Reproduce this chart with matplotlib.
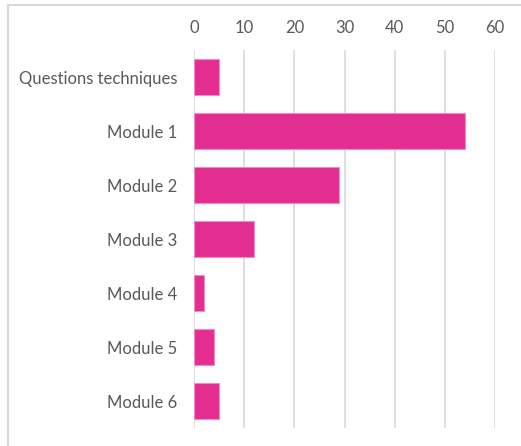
import matplotlib
matplotlib.use('Agg')
import matplotlib.pyplot as plt
from matplotlib.lines import Line2D

# data
categories = ['Questions techniques', 'Module 1', 'Module 2', 'Module 3',
              'Module 4', 'Module 5', 'Module 6']
values = [5, 54, 29, 12, 2, 4, 5]
x_ticks = [0, 10, 20, 30, 40, 50, 60]

plt.rcParams['font.family'] = ['Lato', 'DejaVu Sans']

fig = plt.figure(figsize=(5.21, 4.46), dpi=100)
ax = fig.add_axes([194 / 521, 1 - 428 / 446, (495 - 194) / 521, (428 - 50) / 446])

ypos = list(range(len(categories)))
ax.barh(ypos, values, height=0.67, color='#E32D91', edgecolor='#F08CC4', linewidth=0.8, zorder=3)

ax.set_xlim(0, 60)
ax.set_ylim(len(categories) - 0.5, -0.5)
ax.set_xticks(x_ticks)
ax.set_yticks(ypos)
ax.set_yticklabels(categories)
ax.xaxis.tick_top()
ax.tick_params(axis='x', length=0, pad=10, labelsize=12, colors='#595959')
ax.tick_params(axis='y', length=0, pad=12, labelsize=12, colors='#595959')
ax.grid(axis='x', color='#D9D9D9', linewidth=1.2, zorder=0)
for s in ax.spines.values():
    s.set_visible(False)

# outer chart frame (only top and left edges visible)
fig.add_artist(Line2D([8 / 521, 1], [1 - 5 / 446, 1 - 5 / 446], color='#D9D9D9', linewidth=1.5))
fig.add_artist(Line2D([8 / 521, 8 / 521], [0, 1 - 5 / 446], color='#D9D9D9', linewidth=1.5))

fig.savefig('out.png', dpi=100)
